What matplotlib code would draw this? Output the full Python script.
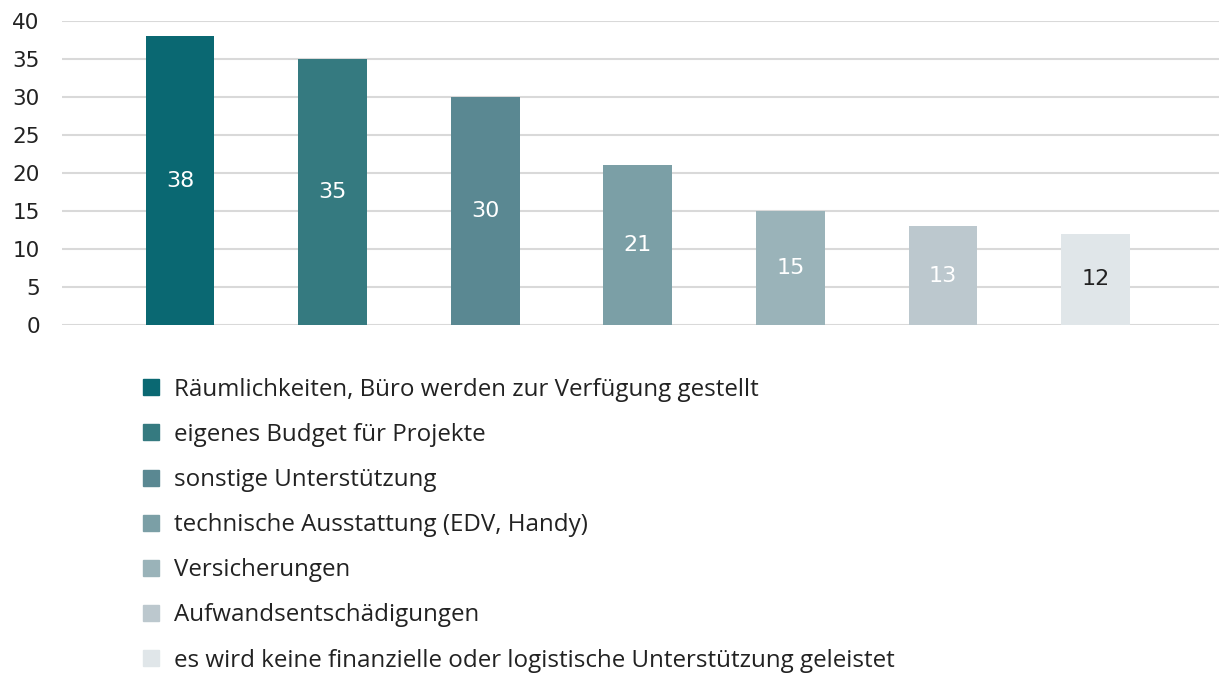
import matplotlib.pyplot as plt
from matplotlib.lines import Line2D

categories = [
    "Räumlichkeiten, Büro werden zur Verfügung gestellt",
    "eigenes Budget für Projekte",
    "sonstige Unterstützung",
    "technische Ausstattung (EDV, Handy)",
    "Versicherungen",
    "Aufwandsentschädigungen",
    "es wird keine finanzielle oder logistische Unterstützung geleistet",
]
values = [38, 35, 30, 21, 15, 13, 12]
colors = ["#0a6872", "#357a80", "#5a8892", "#7b9fa6", "#9ab3b9", "#bcc8ce", "#e0e6e9"]
label_colors = ["white"] * 6 + ["#222222"]
yticks = [0, 5, 10, 15, 20, 25, 30, 35, 40]

W, H = 1219, 673
fig = plt.figure(figsize=(W / 100, H / 100), dpi=100)
ax = fig.add_axes([62 / W, (H - 325) / H, (W - 62) / W, (325 - 21) / H])

x = list(range(len(values)))
bars = ax.bar(x, values, width=0.45, color=colors, zorder=3)
for b, v, c in zip(bars, values, label_colors):
    ax.text(b.get_x() + b.get_width() / 2, v / 2, str(v), ha="center", va="center",
            fontsize=16, color=c, zorder=4)

ax.set_xlim(-0.774, 6.81)
ax.set_ylim(0, 40)
ax.set_yticks(yticks)
ax.set_xticks([])
ax.tick_params(axis="y", length=0, labelsize=15.5, labelcolor="#222222", pad=16)
ax.yaxis.grid(True, color="#d9d9d9", linewidth=1.5, zorder=0)
for s in ax.spines.values():
    s.set_visible(False)

handles = [Line2D([0], [0], marker="s", linestyle="none", markersize=12,
                  markerfacecolor=c, markeredgecolor=c) for c in colors]
leg = fig.legend(handles, categories, loc="upper left",
                 bbox_to_anchor=(127 / W, (H - 368) / H), frameon=False,
                 prop={"family": "Open Sans", "size": 17.4}, labelspacing=0.875,
                 handletextpad=0.35, handlelength=1.2, borderaxespad=0)
for t in leg.get_texts():
    t.set_color("#222222")

fig.savefig("out.png", dpi=100)
